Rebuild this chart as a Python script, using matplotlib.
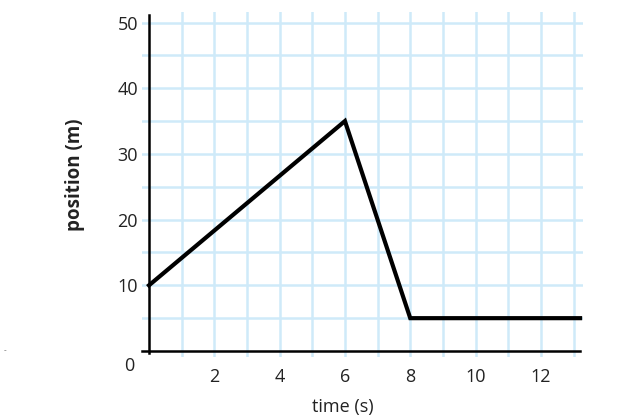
import matplotlib.pyplot as plt

# position-time data
time = [0, 6, 8, 13.2]
position = [10, 35, 5, 5]

x_ticks = [2, 4, 6, 8, 10, 12]
y_ticks = [10, 20, 30, 40, 50]

grid_color = "#cfeaf9"
plt.rcParams["font.family"] = ["Open Sans", "DejaVu Sans"]

fig = plt.figure(figsize=(6.35, 4.17), dpi=100)
ax = fig.add_axes([142 / 635, 60 / 417, 441 / 635, 345 / 417])

ax.set_xlim(-0.214, 13.29)
ax.set_ylim(-0.91, 51.6)

ax.set_xticks(x_ticks)
ax.set_xticklabels([str(v) for v in x_ticks])
ax.set_yticks(y_ticks)
ax.set_yticklabels([str(v) for v in y_ticks])

# light blue grid, every 1 s and every 5 m
ax.set_xticks([v for v in range(1, 14) if v not in x_ticks], minor=True)
ax.set_yticks([v for v in range(5, 55, 5) if v not in y_ticks], minor=True)
ax.grid(True, which="both", color=grid_color, linewidth=1.8)
ax.set_axisbelow(True)

ax.tick_params(which="both", length=0)
ax.tick_params(axis="x", pad=12, labelsize=13, colors="#222222")
ax.tick_params(axis="y", pad=8, labelsize=13, colors="#222222")

for side in ["top", "right"]:
    ax.spines[side].set_visible(False)
ax.spines["left"].set_position(("data", 0))
ax.spines["bottom"].set_position(("data", 0))
ax.spines["left"].set_bounds(-0.3, 51.1)
ax.spines["bottom"].set_bounds(-0.214, 13.2)
ax.spines["left"].set_linewidth(1.8)
ax.spines["bottom"].set_linewidth(1.8)

ax.plot(time, position, color="black", linewidth=3, solid_joinstyle="miter", clip_on=False)

ax.annotate("0", xy=(0, 0), xytext=(-14, -11), textcoords="offset points",
            ha="center", va="center", fontsize=13, color="#222222")

fig.text(343 / 635, 1 - 407 / 417, "time (s)", ha="center", va="center", fontsize=13, color="#222222")
fig.text(75 / 635, 1 - 175 / 417, "position (m)", ha="center", va="center", rotation=90,
         fontsize=13.5, fontweight="bold", color="#222222")
fig.text(5 / 635, 1 - 351 / 417, "-", ha="center", va="center", fontsize=6, color="#555555")

fig.savefig("out.png", dpi=100)
